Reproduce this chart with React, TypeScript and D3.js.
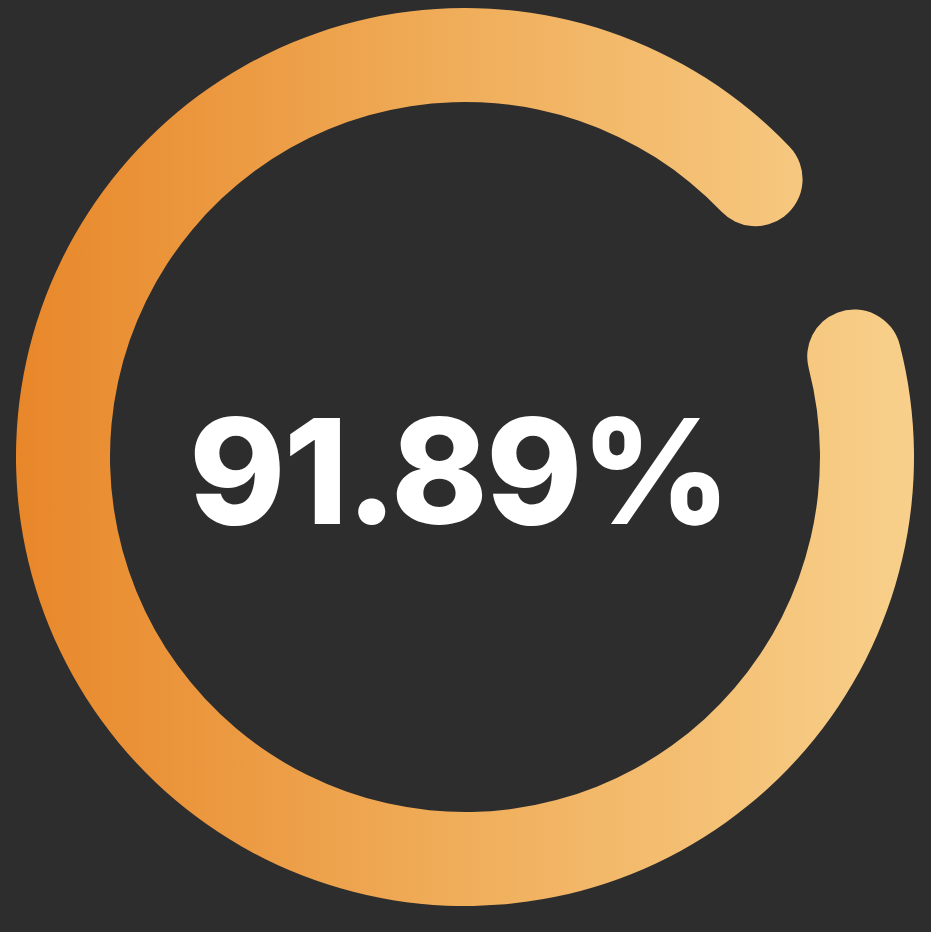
import { useEffect, useRef } from 'react';
import * as d3 from 'd3';

// progress value (percent) and the angle where the ring starts (degrees, clockwise from 12 o'clock)
const values = [91.89];
const startAngles = [75.5];
const gradientStops = [
  { offset: '0%', color: '#E8872A' },
  { offset: '50%', color: '#F0AE5B' },
  { offset: '100%', color: '#F8D08B' },
];

export default function App() {
  const svgRef = useRef<SVGSVGElement>(null);
  const width = 931;
  const height = 932;

  useEffect(() => {
    document.body.style.margin = '0';
    if (!svgRef.current) return;
    const svg = d3.select(svgRef.current);
    svg.selectAll('*').remove();

    const cx = 465;
    const cy = 457;
    const outerR = 449;
    const innerR = 355;
    const capR = (outerR - innerR) / 2;
    const midR = (outerR + innerR) / 2;
    const capAngle = capR / midR;

    svg.append('rect').attr('width', width).attr('height', height).attr('fill', '#2D2D2D');

    // gradient runs left -> right across the ring (coords are in the translated group space)
    const defs = svg.append('defs');
    const grad = defs
      .append('linearGradient')
      .attr('id', 'ringGrad')
      .attr('gradientUnits', 'userSpaceOnUse')
      .attr('x1', -outerR)
      .attr('y1', 0)
      .attr('x2', outerR)
      .attr('y2', 0);
    gradientStops.forEach((s) => {
      grad.append('stop').attr('offset', s.offset).attr('stop-color', s.color);
    });

    const scale = d3.scaleLinear().domain([0, 100]).range([0, 2 * Math.PI]);
    const g = svg.append('g').attr('transform', `translate(${cx},${cy})`);

    values.forEach((v, i) => {
      const a0 = (startAngles[i] * Math.PI) / 180;
      const a1 = a0 + scale(v);
      const arc = d3
        .arc<any>()
        .innerRadius(innerR)
        .outerRadius(outerR)
        .cornerRadius(capR)
        .startAngle(a0 - capAngle)
        .endAngle(a1 + capAngle);
      g.append('path')
        .attr('d', arc({}) as string)
        .attr('fill', 'url(#ringGrad)');

      g.append('text')
        .attr('x', -6)
        .attr('y', 67)
        .attr('text-anchor', 'middle')
        .attr('fill', '#FFFFFF')
        .style('font-family', 'Inter, "Noto Sans", sans-serif')
        .style('font-weight', 800)
        .style('font-size', '146px')
        .style('letter-spacing', '-2px')
        .text(`${v.toFixed(2)}%`);
    });
  }, []);

  return <svg ref={svgRef} width={width} height={height} style={{ display: 'block' }} />;
}
